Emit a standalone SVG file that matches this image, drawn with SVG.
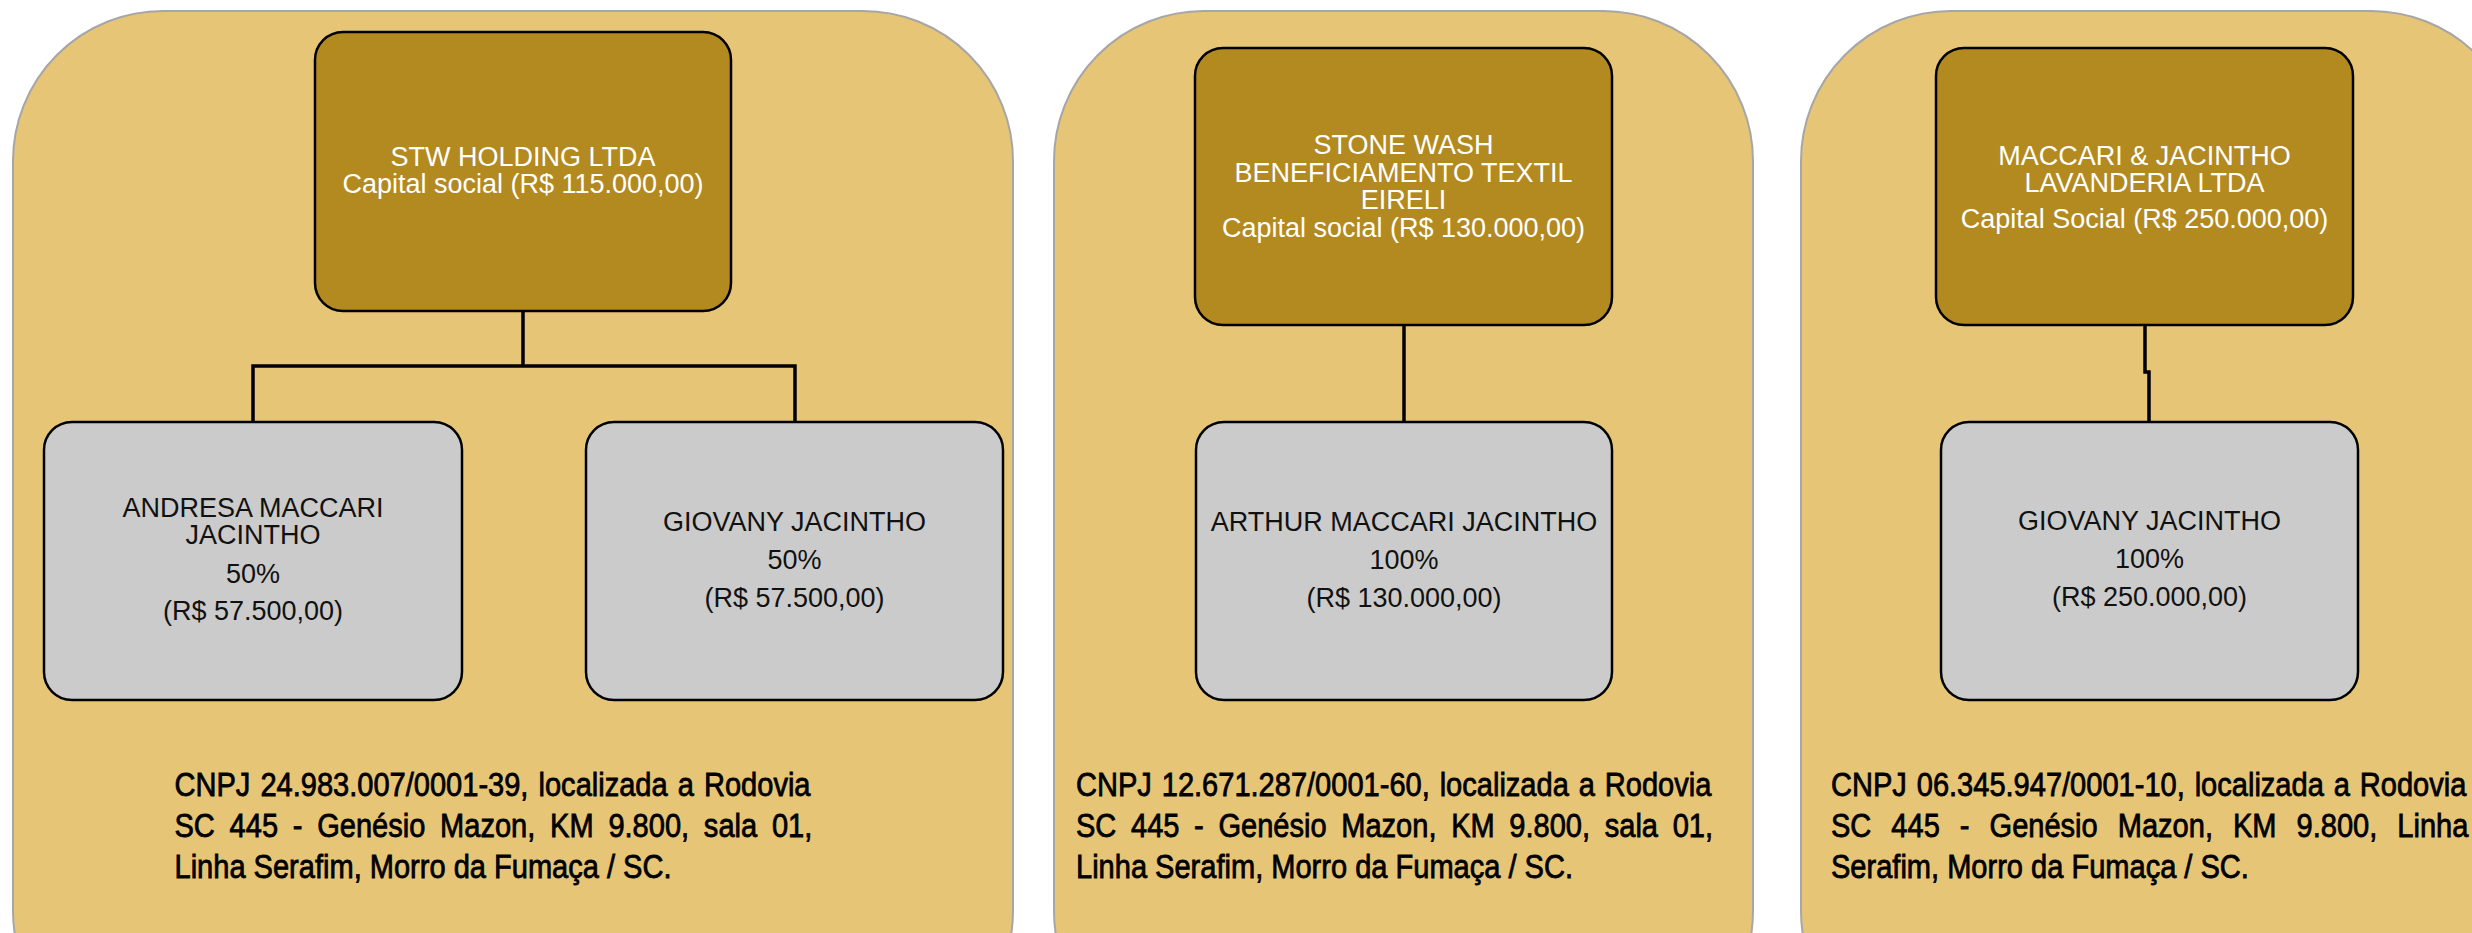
<svg xmlns="http://www.w3.org/2000/svg" width="2472" height="933" viewBox="0 0 2472 933">
<style>
.panel{fill:#e6c577;stroke:#a6a6a6;stroke-width:2}
.top{fill:#b38a20;stroke:#000;stroke-width:2.5}
.child{fill:#cbcbcb;stroke:#000;stroke-width:2.5}
.conn{fill:none;stroke:#000;stroke-width:3.5}
text{font-family:"Liberation Sans",Arial,sans-serif}
.tt{font-size:27px;fill:#fff;text-anchor:middle}
.ct{font-size:27px;fill:#111;text-anchor:middle}
.bt{font-size:33px;fill:#000;stroke:#000;stroke-width:0.8}
</style>
<rect width="2472" height="933" fill="#fff"/>
<g id="panel1">
<rect class="panel" x="13" y="11" width="1000" height="1050" rx="150" ry="150"/>
</g>
<g id="panel2">
<rect class="panel" x="1054" y="11" width="699" height="1050" rx="150" ry="150"/>
</g>
<g id="panel3">
<rect class="panel" x="1801" y="11" width="720" height="1050" rx="150" ry="150"/>
</g>
<g id="connectors">
<path class="conn" d="M523 311 V366 M253 422 V366 H795 V422"/>
<path class="conn" d="M1404 325 V422"/>
<path class="conn" d="M2145 325 V372 H2149 V422"/>
</g>
<g id="node-stw">
<rect class="top" x="315" y="32" width="416" height="279" rx="28"/>
<text class="tt" x="523" y="166">STW HOLDING LTDA</text>
<text class="tt" x="523" y="193">Capital social (R$ 115.000,00)</text>
</g>
<g id="node-andresa">
<rect class="child" x="44" y="422" width="418" height="278" rx="28"/>
<text class="ct" x="253" y="517">ANDRESA MACCARI</text>
<text class="ct" x="253" y="544">JACINTHO</text>
<text class="ct" x="253" y="583">50%</text>
<text class="ct" x="253" y="620">(R$ 57.500,00)</text>
</g>
<g id="node-giovany1">
<rect class="child" x="586" y="422" width="417" height="278" rx="28"/>
<text class="ct" x="794.5" y="531">GIOVANY JACINTHO</text>
<text class="ct" x="794.5" y="569">50%</text>
<text class="ct" x="794.5" y="607">(R$ 57.500,00)</text>
</g>
<g id="note1" transform="translate(174.5,0) scale(0.88,1)">
<text class="bt" x="0" y="796" style="word-spacing:2.3px">CNPJ 24.983.007/0001-39, localizada a Rodovia</text>
<text class="bt" x="0" y="837" style="word-spacing:7.6px">SC 445 - Genésio Mazon, KM 9.800, sala 01,</text>
<text class="bt" x="0" y="878">Linha Serafim, Morro da Fumaça / SC.</text>
</g>
<g id="node-stonewash">
<rect class="top" x="1195" y="48" width="417" height="277" rx="28"/>
<text class="tt" x="1403.5" y="154">STONE WASH</text>
<text class="tt" x="1403.5" y="181.5">BENEFICIAMENTO TEXTIL</text>
<text class="tt" x="1403.5" y="209">EIRELI</text>
<text class="tt" x="1403.5" y="236.5">Capital social (R$ 130.000,00)</text>
</g>
<g id="node-arthur">
<rect class="child" x="1196" y="422" width="416" height="278" rx="28"/>
<text class="ct" x="1404" y="531">ARTHUR MACCARI JACINTHO</text>
<text class="ct" x="1404" y="569">100%</text>
<text class="ct" x="1404" y="607">(R$ 130.000,00)</text>
</g>
<g id="note2" transform="translate(1076,0) scale(0.88,1)">
<text class="bt" x="0" y="796" style="word-spacing:2.1px">CNPJ 12.671.287/0001-60, localizada a Rodovia</text>
<text class="bt" x="0" y="837" style="word-spacing:7.5px">SC 445 - Genésio Mazon, KM 9.800, sala 01,</text>
<text class="bt" x="0" y="878">Linha Serafim, Morro da Fumaça / SC.</text>
</g>
<g id="node-maccari">
<rect class="top" x="1936" y="48" width="417" height="277" rx="28"/>
<text class="tt" x="2144.5" y="165">MACCARI &amp; JACINTHO</text>
<text class="tt" x="2144.5" y="192">LAVANDERIA LTDA</text>
<text class="tt" x="2144.5" y="228">Capital Social (R$ 250.000,00)</text>
</g>
<g id="node-giovany2">
<rect class="child" x="1941" y="422" width="417" height="278" rx="28"/>
<text class="ct" x="2149.5" y="530">GIOVANY JACINTHO</text>
<text class="ct" x="2149.5" y="568">100%</text>
<text class="ct" x="2149.5" y="606">(R$ 250.000,00)</text>
</g>
<g id="note3" transform="translate(1831,0) scale(0.88,1)">
<text class="bt" x="0" y="796" style="word-spacing:2.1px">CNPJ 06.345.947/0001-10, localizada a Rodovia</text>
<text class="bt" x="0" y="837" style="word-spacing:13.6px">SC 445 - Genésio Mazon, KM 9.800, Linha</text>
<text class="bt" x="0" y="878">Serafim, Morro da Fumaça / SC.</text>
</g>
</svg>
